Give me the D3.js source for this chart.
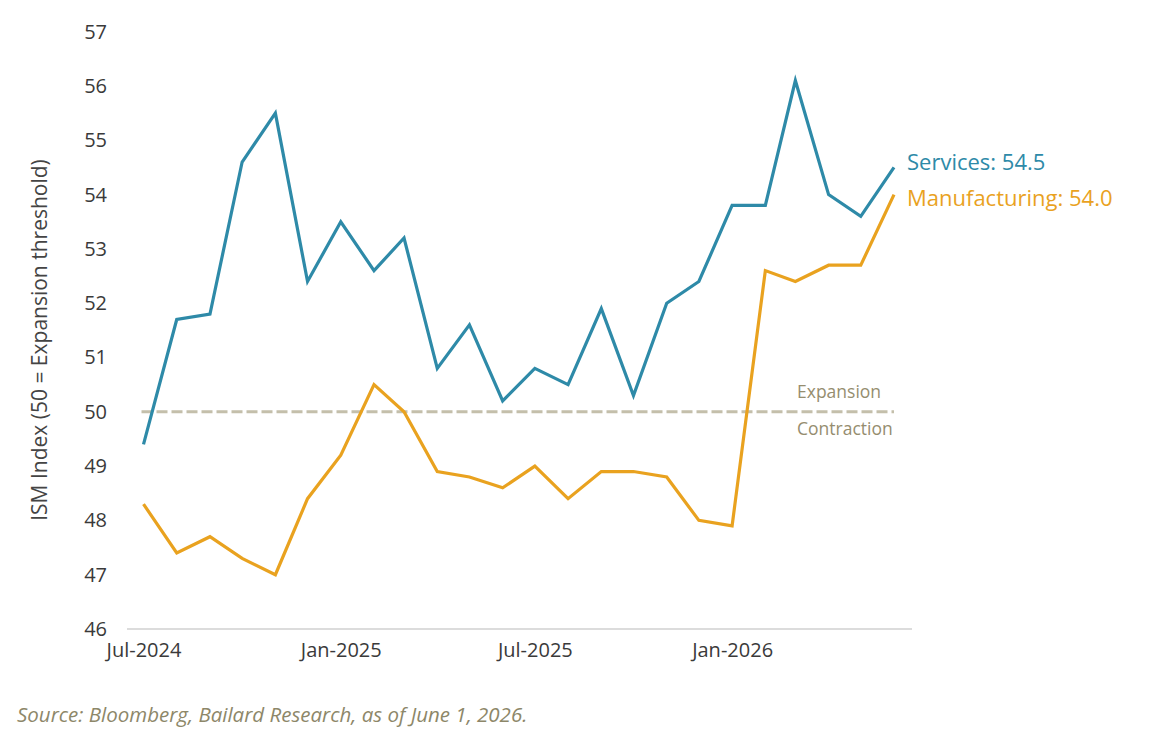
<!DOCTYPE html>
<html>
<head>
<meta charset="utf-8">
<script src="https://cdn.jsdelivr.net/npm/d3@7"></script>
<style>
  body { margin: 0; background: #fff; }
  svg text { font-family: "Open Sans", "Noto Sans", sans-serif; }
</style>
</head>
<body>
<div id="main"></div>
<script>
// Monthly ISM readings, Jul-2024 .. Jun-2026
const months = ['2024-07','2024-08','2024-09','2024-10','2024-11','2024-12',
  '2025-01','2025-02','2025-03','2025-04','2025-05','2025-06',
  '2025-07','2025-08','2025-09','2025-10','2025-11','2025-12',
  '2026-01','2026-02','2026-03','2026-04','2026-05','2026-06'];
const services = [49.4, 51.7, 51.8, 54.6, 55.5, 52.4, 53.5, 52.6, 53.2, 50.8, 51.6, 50.2,
  50.8, 50.5, 51.9, 50.3, 52.0, 52.4, 53.8, 53.8, 56.1, 54.0, 53.6, 54.5];
const manufacturing = [48.3, 47.4, 47.7, 47.3, 47.0, 48.4, 49.2, 50.5, 50.0, 48.9, 48.8, 48.6,
  49.0, 48.4, 48.9, 48.9, 48.8, 48.0, 47.9, 52.6, 52.4, 52.7, 52.7, 54.0];
const yTicks = [46, 47, 48, 49, 50, 51, 52, 53, 54, 55, 56, 57];
const xTicks = ['2024-07', '2025-01', '2025-07', '2026-01'];

const parse = d3.timeParse('%Y-%m');
const dates = months.map(parse);

const w = 1150, h = 741;
const svc = '#2e8aa8';
const mfg = '#e9a21f';

const svg = d3.select('#main').append('svg')
  .attr('width', w)
  .attr('height', h);

// Scales
const x = d3.scaleTime()
  .domain([dates[0], dates[dates.length - 1]])
  .range([143.5, 894]);

const y = d3.scaleLinear()
  .domain([46, 57])
  .range([629, 31.7]);

// Y axis labels (no line)
const yAxis = d3.axisLeft(y)
  .tickValues(yTicks)
  .tickSize(0)
  .tickPadding(0);

svg.append('g')
  .attr('transform', 'translate(107,0)')
  .call(yAxis)
  .call(g => g.select('.domain').remove())
  .selectAll('text')
  .style('font-size', '20px')
  .attr('fill', '#3a3a3a');

// X axis
const xAxis = d3.axisBottom(x)
  .tickValues(xTicks.map(parse))
  .tickFormat(d3.timeFormat('%b-%Y'))
  .tickSize(0)
  .tickPadding(14);

svg.append('g')
  .attr('transform', `translate(0,${y(46)})`)
  .call(xAxis)
  .call(g => g.select('.domain').remove())
  .selectAll('text')
  .style('font-size', '20px')
  .attr('fill', '#3a3a3a');

// baseline
svg.append('line')
  .attr('x1', 127).attr('x2', 912)
  .attr('y1', y(46)).attr('y2', y(46))
  .attr('stroke', '#dcdcdc')
  .attr('stroke-width', 2);

// 50 threshold
svg.append('line')
  .attr('x1', x(dates[0]) - 2).attr('x2', x(dates[dates.length - 1]))
  .attr('y1', y(50)).attr('y2', y(50))
  .attr('stroke', '#c4bfab')
  .attr('stroke-width', 3)
  .attr('stroke-dasharray', '11,4');

svg.append('text')
  .attr('x', 797).attr('y', y(50) - 14)
  .text('Expansion')
  .style('font-size', '17.5px')
  .attr('fill', '#958d6f');

svg.append('text')
  .attr('x', 797).attr('y', y(50) + 23)
  .text('Contraction')
  .style('font-size', '17.5px')
  .attr('fill', '#958d6f');

// Lines
const line = d3.line()
  .x((d, i) => x(dates[i]))
  .y(d => y(d));

svg.append('path')
  .datum(manufacturing)
  .attr('d', line)
  .attr('fill', 'none')
  .attr('stroke', mfg)
  .attr('stroke-width', 3.2);

svg.append('path')
  .datum(services)
  .attr('d', line)
  .attr('fill', 'none')
  .attr('stroke', svc)
  .attr('stroke-width', 3.2);

// End labels
svg.append('text')
  .attr('x', 907).attr('y', 170)
  .text('Services: ' + services[services.length - 1].toFixed(1))
  .style('font-size', '22px')
  .attr('fill', svc);

svg.append('text')
  .attr('x', 907).attr('y', 206)
  .text('Manufacturing: ' + manufacturing[manufacturing.length - 1].toFixed(1))
  .style('font-size', '22px')
  .attr('fill', mfg);

// Y title
svg.append('text')
  .attr('transform', 'translate(47,340) rotate(-90)')
  .attr('text-anchor', 'middle')
  .text('ISM Index (50 = Expansion threshold)')
  .style('font-size', '21px')
  .attr('fill', '#444');

// Source
svg.append('text')
  .attr('x', 17).attr('y', 722)
  .text('Source: Bloomberg, Bailard Research, as of June 1, 2026.')
  .style('font-size', '20.5px')
  .style('font-style', 'italic')
  .attr('fill', '#8d8769');
</script>
</body>
</html>
